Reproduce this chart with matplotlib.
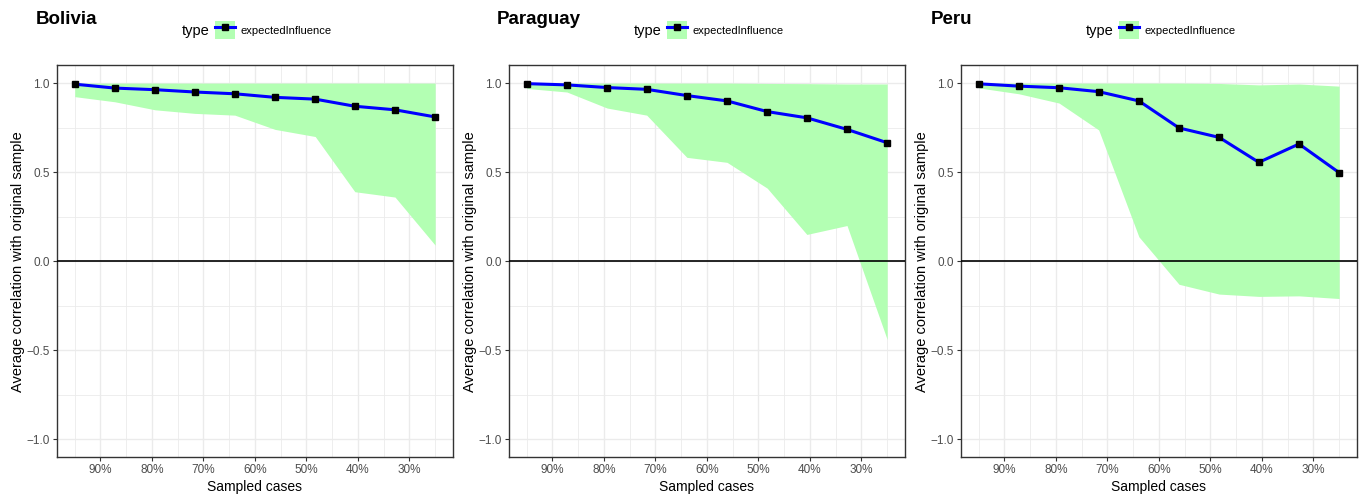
import matplotlib.pyplot as plt
from matplotlib.patches import Patch
from matplotlib.lines import Line2D
from matplotlib.legend_handler import HandlerTuple

plt.rcParams['font.family'] = ['Liberation Sans', 'DejaVu Sans']

# proportion of sampled cases (x), shared by all panels
sampled = [0.95, 0.872, 0.794, 0.717, 0.639, 0.561, 0.483, 0.406, 0.328, 0.25]

countries = ['Bolivia', 'Paraguay', 'Peru']

# mean correlation with original sample
mean_corr = {
    'Bolivia':  [0.994, 0.972, 0.963, 0.950, 0.940, 0.920, 0.910, 0.870, 0.850, 0.810],
    'Paraguay': [0.997, 0.990, 0.975, 0.965, 0.930, 0.900, 0.840, 0.805, 0.740, 0.665],
    'Peru':     [0.996, 0.983, 0.974, 0.952, 0.900, 0.748, 0.695, 0.555, 0.658, 0.497],
}
# lower / upper quantile band
lower = {
    'Bolivia':  [0.924, 0.895, 0.850, 0.830, 0.820, 0.740, 0.700, 0.390, 0.360, 0.090],
    'Paraguay': [0.970, 0.950, 0.860, 0.820, 0.583, 0.555, 0.410, 0.150, 0.200, -0.440],
    'Peru':     [0.973, 0.940, 0.888, 0.737, 0.137, -0.130, -0.185, -0.198, -0.195, -0.210],
}
upper = {
    'Bolivia':  [1.0, 1.0, 1.0, 1.0, 1.0, 1.0, 1.0, 1.0, 1.0, 1.0],
    'Paraguay': [1.0, 1.0, 1.0, 1.0, 1.0, 1.0, 0.998, 0.997, 0.995, 0.995],
    'Peru':     [1.0, 1.0, 1.0, 1.0, 1.0, 1.0, 0.998, 0.99, 0.995, 0.983],
}

xticks = [0.9, 0.8, 0.7, 0.6, 0.5, 0.4, 0.3]
xticklabels = ['90%', '80%', '70%', '60%', '50%', '40%', '30%']
yticks = [-1.0, -0.5, 0.0, 0.5, 1.0]
yticklabels = ['\u22121.0', '\u22120.5', '0.0', '0.5', '1.0']

W, H = 1360, 496
fig = plt.figure(figsize=(W / 100, H / 100), dpi=100)

lefts = [56.7, 508.7, 960.7]
title_x = [36, 497, 931]
ax_w = 396.5
ax_top, ax_bot = 65.3, 457.0

fill_col = '#B3FFB3'
grid_col = '#EBEBEB'
tick_col = '#4D4D4D'

for i, c in enumerate(countries):
    l = lefts[i]
    ax = fig.add_axes([l / W, 1 - ax_bot / H, ax_w / W, (ax_bot - ax_top) / H])
    ax.fill_between(sampled, lower[c], upper[c], color=fill_col, lw=0, zorder=2)
    ax.axhline(0, color='black', lw=1.2, zorder=3)
    ax.plot(sampled, mean_corr[c], color='blue', lw=2.2, zorder=4)
    ax.plot(sampled, mean_corr[c], 's', color='black', ms=4.5, zorder=5)

    ax.set_xlim(0.985, 0.215)
    ax.set_ylim(-1.1, 1.1)
    ax.set_xticks(xticks)
    ax.set_xticklabels(xticklabels)
    ax.set_yticks(yticks)
    ax.set_yticklabels(yticklabels)
    ax.set_xticks([0.95, 0.85, 0.75, 0.65, 0.55, 0.45, 0.35, 0.25], minor=True)
    ax.set_yticks([-0.75, -0.25, 0.25, 0.75], minor=True)
    ax.grid(which='major', color=grid_col, lw=1.0, zorder=0)
    ax.grid(which='minor', color=grid_col, lw=0.6, zorder=0)
    ax.set_axisbelow(True)
    ax.tick_params(which='major', length=3, width=0.8, color='#333333',
                   labelsize=8.5, labelcolor=tick_col, pad=2)
    ax.tick_params(which='minor', length=0)
    for s in ax.spines.values():
        s.set_color('#333333')
        s.set_linewidth(1.0)
    ax.set_xlabel('Sampled cases', fontsize=10, labelpad=3)
    ax.set_ylabel('Average correlation with original sample', fontsize=10.5, labelpad=1)

    fig.text(title_x[i] / W, 1 - 19.5 / H, c, fontsize=13.5, fontweight='bold',
             ha='left', va='center')
    fig.text((l + 153) / W, 1 - 31 / H, 'type', fontsize=10.5, ha='right', va='center')
    key = (Patch(facecolor=fill_col, edgecolor='none'),
           Line2D([], [], color='blue', lw=2.2, marker='s', ms=4.5,
                  markerfacecolor='black', markeredgecolor='black'))
    fig.legend([key], ['expectedInfluence'], handler_map={tuple: HandlerTuple(ndivide=1, pad=0)},
               loc='center left', bbox_to_anchor=((l + 158) / W, 1 - 30 / H),
               frameon=False, fontsize=8, handlelength=1.8, handleheight=2.0,
               handletextpad=0.5, borderpad=0, borderaxespad=0)

fig.savefig('out.png', dpi=100)
